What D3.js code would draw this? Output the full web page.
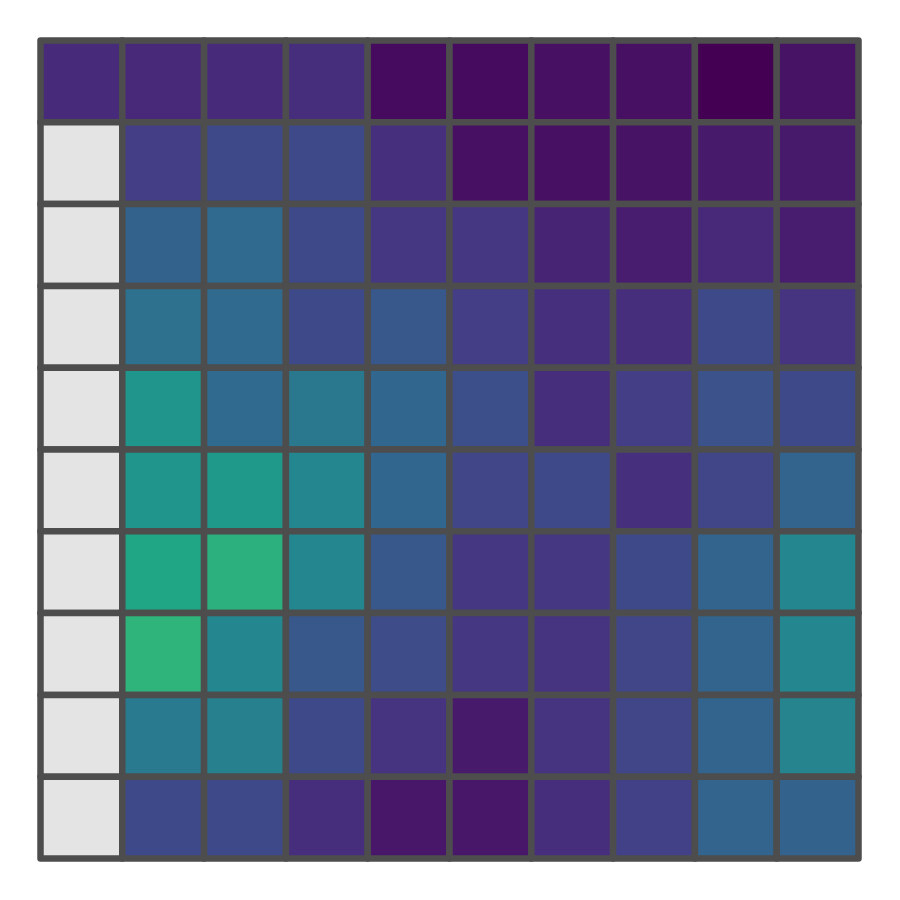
<!DOCTYPE html>
<html><head><meta charset="utf-8">
<script src="https://cdn.jsdelivr.net/npm/d3@7"></script>
<style>body{margin:0;background:#fff;}</style>
</head><body>
<svg id="chart" width="900" height="900"></svg>
<script>
const rows = ["r1","r2","r3","r4","r5","r6","r7","r8","r9","r10"];
const cols = ["c1","c2","c3","c4","c5","c6","c7","c8","c9","c10"];
const row1  = [0.12, 0.11, 0.12, 0.13, 0.03, 0.03, 0.04, 0.04, 0.00, 0.05];
const row2  = [null, 0.18, 0.22, 0.22, 0.14, 0.04, 0.04, 0.05, 0.07, 0.07];
const row3  = [null, 0.31, 0.34, 0.22, 0.16, 0.16, 0.10, 0.08, 0.11, 0.08];
const row4  = [null, 0.37, 0.34, 0.22, 0.27, 0.18, 0.14, 0.13, 0.22, 0.15];
const row5  = [null, 0.52, 0.34, 0.40, 0.33, 0.24, 0.13, 0.18, 0.25, 0.22];
const row6  = [null, 0.52, 0.54, 0.46, 0.33, 0.21, 0.22, 0.14, 0.21, 0.32];
const row7  = [null, 0.59, 0.64, 0.46, 0.27, 0.16, 0.16, 0.22, 0.32, 0.46];
const row8  = [null, 0.65, 0.46, 0.27, 0.23, 0.16, 0.15, 0.21, 0.32, 0.46];
const row9  = [null, 0.41, 0.43, 0.22, 0.15, 0.07, 0.15, 0.21, 0.32, 0.45];
const row10 = [null, 0.22, 0.22, 0.13, 0.06, 0.06, 0.13, 0.19, 0.32, 0.31];
const matrix = [row1,row2,row3,row4,row5,row6,row7,row8,row9,row10];

const cells = [];
matrix.forEach((r, i) => r.forEach((v, j) => cells.push({row: rows[i], col: cols[j], value: v})));

const svg = d3.select("#chart");
const x = d3.scaleBand().domain(cols).range([40.5, 858.5]).padding(0);
const y = d3.scaleBand().domain(rows).range([40.5, 858.5]).padding(0);
const color = d3.scaleSequential(d3.interpolateViridis).domain([0, 1]);

svg.append("g").selectAll("rect").data(cells).join("rect")
  .attr("x", d => x(d.col))
  .attr("y", d => y(d.row))
  .attr("width", x.bandwidth())
  .attr("height", y.bandwidth())
  .attr("fill", d => d.value == null ? "#e4e4e4" : color(d.value))
  .attr("stroke", "#4d4d4d")
  .attr("stroke-width", 6.5)
  .attr("stroke-linejoin", "round");
</script>
</body></html>
